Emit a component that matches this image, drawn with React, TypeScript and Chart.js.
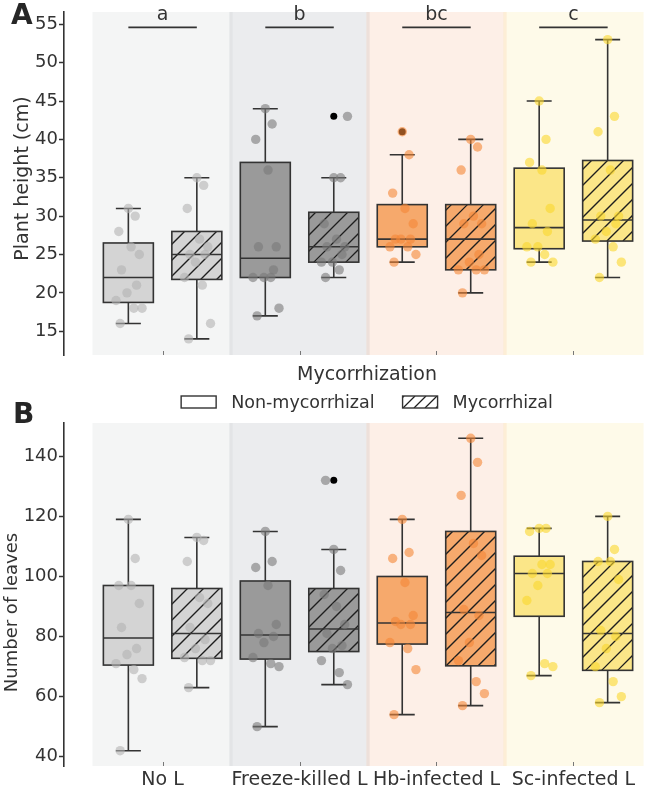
import React, { useEffect, useRef } from 'react';
import { Chart, registerables } from 'chart.js';

Chart.register(...registerables);

// ---------------- DATA ----------------
const categories = ['No L', 'Freeze-killed L', 'Hb-infected L', 'Sc-infected L'];
const groupLabels = ['Non-mycorrhizal', 'Mycorrhizal'];
const axisTitleA = 'Plant height (cm)';
const axisTitleB = 'Number of leaves';
const xTitle = 'Mycorrhization';
const heightLetters = ['a', 'b', 'bc', 'c'];
const heightTicks = [15, 20, 25, 30, 35, 40, 45, 50, 55];
const leafTicks = [40, 60, 80, 100, 120, 140];

// Panel A: plant height (cm)
const heightNoLNon = [31, 30, 28, 26, 25, 23, 21, 20, 19, 18, 18, 16];
const heightNoLMyc = [35, 34, 31, 27, 26, 25, 25, 24, 22, 21, 16, 14];
const heightFKNon = [44, 42, 40, 36, 26, 26, 23, 22, 22, 22, 18, 17];
const heightFKMyc = [35, 35, 29, 27, 26, 26, 25, 24, 24, 23, 43, 22];
const heightHbNon = [41, 38, 33, 31, 29, 27, 27, 27, 26, 26, 25, 24];
const heightHbMyc = [40, 39, 36, 30, 29, 29, 25, 24, 23, 23, 23, 20];
const heightScNon = [45, 40, 37, 36, 31, 29, 28, 26, 26, 25, 24, 24];
const heightScMyc = [53, 43, 41, 36, 30, 30, 29, 28, 27, 26, 24, 22];

// Panel B: number of leaves
const leavesNoLNon = [119, 106, 97, 97, 91, 83, 76, 74, 71, 69, 66, 42];
const leavesNoLMyc = [113, 112, 105, 93, 91, 83, 79, 76, 73, 72, 72, 63];
const leavesFKNon = [115, 105, 103, 97, 84, 81, 80, 78, 73, 71, 70, 50];
const leavesFKMyc = [109, 102, 94, 90, 84, 81, 77, 76, 72, 68, 64, 132];
const leavesHbNon = [119, 108, 106, 98, 87, 85, 84, 84, 78, 76, 69, 54];
const leavesHbMyc = [146, 138, 127, 111, 107, 89, 87, 78, 72, 65, 61, 57];
const leavesScNon = [116, 116, 115, 104, 104, 101, 101, 97, 92, 71, 70, 67];
const leavesScMyc = [120, 109, 105, 105, 99, 82, 80, 76, 70, 65, 60, 58];

const heightNon = [heightNoLNon, heightFKNon, heightHbNon, heightScNon];
const heightMyc = [heightNoLMyc, heightFKMyc, heightHbMyc, heightScMyc];
const leavesNon = [leavesNoLNon, leavesFKNon, leavesHbNon, leavesScNon];
const leavesMyc = [leavesNoLMyc, leavesFKMyc, leavesHbMyc, leavesScMyc];

// ---------------- STYLE ----------------
const FONT = "'DejaVu Sans', 'Noto Sans', sans-serif";
const INK = '#333333';
const boxFill = ['#d4d4d4', '#9a9a9a', '#f6a96c', '#fbe688'];
const pointFill = [
  'rgba(178,178,178,0.6)',
  'rgba(122,122,122,0.6)',
  'rgba(245,135,55,0.6)',
  'rgba(250,215,45,0.6)',
];
const bandFill = [
  'rgba(200,205,205,0.2)',
  'rgba(155,160,170,0.2)',
  'rgba(245,175,135,0.2)',
  'rgba(250,230,145,0.2)',
];
const GROUP_OFFSET = [-0.25, 0.25];
const BOX_WIDTH = 0.365;
const JITTER = [0.0, 0.05, -0.07, 0.02, 0.08, -0.05, 0.06, -0.01, -0.09, 0.04, 0.1, -0.06];

// ---------------- HELPERS ----------------
function quantile(sorted: number[], p: number) {
  const pos = (sorted.length - 1) * p;
  const lo = Math.floor(pos);
  const hi = Math.ceil(pos);
  return sorted[lo] + (sorted[hi] - sorted[lo]) * (pos - lo);
}

function boxStats(vals: number[]) {
  const s = [...vals].sort((a, b) => a - b);
  const q1 = quantile(s, 0.25);
  const med = quantile(s, 0.5);
  const q3 = quantile(s, 0.75);
  const iqr = q3 - q1;
  const lo = q1 - 1.5 * iqr - 1e-9;
  const hi = q3 + 1.5 * iqr + 1e-9;
  const inside = s.filter((v) => v >= lo && v <= hi);
  return {
    q1, med, q3,
    min: inside[0],
    max: inside[inside.length - 1],
    out: s.filter((v) => v < lo || v > hi),
  };
}

function drawHatch(ctx: CanvasRenderingContext2D, l: number, t: number, w: number, h: number, step: number) {
  ctx.save();
  ctx.beginPath();
  ctx.rect(l, t, w, h);
  ctx.clip();
  ctx.strokeStyle = '#1e1e1e';
  ctx.lineWidth = 1.3;
  ctx.beginPath();
  const r = l + w;
  const b = t + h;
  for (let s = Math.floor((l + t) / step) * step; s <= r + b + step; s += step) {
    ctx.moveTo(s - b, b);
    ctx.lineTo(s - t, t);
  }
  ctx.stroke();
  ctx.restore();
}

const boxPlotPlugin = {
  id: 'boxplot',
  beforeDatasetsDraw(chart: any, _args: any, opts: any) {
    const { ctx, chartArea: ca } = chart;
    const x = chart.scales.x;
    const y = chart.scales.y;
    ctx.save();
    // background bands
    categories.forEach((_, c) => {
      const l = x.getPixelForValue(c - 0.512);
      const r = x.getPixelForValue(c + 0.512);
      ctx.fillStyle = bandFill[c];
      ctx.fillRect(l, ca.top, r - l, ca.bottom - ca.top);
    });
    // small category ticks inside bottom
    ctx.strokeStyle = '#777';
    ctx.lineWidth = 1;
    categories.forEach((_, c) => {
      const px = Math.round(x.getPixelForValue(c)) + 0.5;
      ctx.beginPath();
      ctx.moveTo(px, ca.bottom - 4);
      ctx.lineTo(px, ca.bottom);
      ctx.stroke();
    });
    const half = (x.getPixelForValue(BOX_WIDTH) - x.getPixelForValue(0)) / 2;
    const groups: number[][][] = opts.groups;
    groups.forEach((series, g) =>
      series.forEach((vals, c) => {
        const st = boxStats(vals);
        const cx = x.getPixelForValue(c + GROUP_OFFSET[g]);
        const yq1 = y.getPixelForValue(st.q1);
        const yq3 = y.getPixelForValue(st.q3);
        const ymed = y.getPixelForValue(st.med);
        const ymin = y.getPixelForValue(st.min);
        const ymax = y.getPixelForValue(st.max);
        ctx.strokeStyle = INK;
        ctx.lineWidth = 1.6;
        ctx.beginPath();
        ctx.moveTo(cx, yq3);
        ctx.lineTo(cx, ymax);
        ctx.moveTo(cx, yq1);
        ctx.lineTo(cx, ymin);
        ctx.moveTo(cx - half / 2, ymax);
        ctx.lineTo(cx + half / 2, ymax);
        ctx.moveTo(cx - half / 2, ymin);
        ctx.lineTo(cx + half / 2, ymin);
        ctx.stroke();
        ctx.fillStyle = boxFill[c];
        ctx.fillRect(cx - half, yq3, 2 * half, yq1 - yq3);
        if (g === 1) drawHatch(ctx, cx - half, yq3, 2 * half, yq1 - yq3, 16);
        ctx.strokeStyle = INK;
        ctx.lineWidth = 1.6;
        ctx.strokeRect(cx - half, yq3, 2 * half, yq1 - yq3);
        ctx.beginPath();
        ctx.moveTo(cx - half, ymed);
        ctx.lineTo(cx + half, ymed);
        ctx.stroke();
        st.out.forEach((v) => {
          ctx.fillStyle = '#000';
          ctx.beginPath();
          ctx.arc(cx, y.getPixelForValue(v), 3.5, 0, Math.PI * 2);
          ctx.fill();
        });
      })
    );
    // significance letters
    if (opts.letters) {
      const ly = y.getPixelForValue(opts.letterLine);
      opts.letters.forEach((txt: string, c: number) => {
        const x1 = x.getPixelForValue(c + GROUP_OFFSET[0]);
        const x2 = x.getPixelForValue(c + GROUP_OFFSET[1]);
        ctx.strokeStyle = INK;
        ctx.lineWidth = 1.6;
        ctx.beginPath();
        ctx.moveTo(x1, ly);
        ctx.lineTo(x2, ly);
        ctx.stroke();
        ctx.fillStyle = INK;
        ctx.font = `19px ${FONT}`;
        ctx.textAlign = 'center';
        ctx.textBaseline = 'alphabetic';
        ctx.fillText(txt, (x1 + x2) / 2, ly - 7);
      });
    }
    ctx.restore();
  },
  afterDraw(chart: any, _args: any, opts: any) {
    const { ctx, chartArea: ca } = chart;
    ctx.save();
    // y axis title
    ctx.fillStyle = INK;
    ctx.font = `${opts.yTitleSize}px ${FONT}`;
    ctx.textAlign = 'center';
    ctx.textBaseline = 'middle';
    ctx.translate(opts.yTitleX, (ca.top + ca.bottom) / 2 + opts.yTitleShift);
    ctx.rotate(-Math.PI / 2);
    ctx.fillText(opts.yTitle, 0, 0);
    ctx.restore();
    // panel letter
    ctx.save();
    ctx.fillStyle = '#262626';
    ctx.font = `bold 28px ${FONT}`;
    ctx.textAlign = 'left';
    ctx.textBaseline = 'alphabetic';
    ctx.fillText(opts.panel, opts.panelX, opts.panelY);
    ctx.restore();
    // Mycorrhization title + legend
    if (opts.legend) {
      ctx.save();
      ctx.fillStyle = INK;
      ctx.font = `19px ${FONT}`;
      ctx.textAlign = 'center';
      ctx.textBaseline = 'alphabetic';
      const cxm = opts.legendCenter;
      ctx.fillText(xTitle, cxm, 20);
      ctx.font = `17.5px ${FONT}`;
      const boxW = 35, boxH = 12, gapText = 15, gapItem = 28;
      const w0 = ctx.measureText(groupLabels[0]).width;
      const w1 = ctx.measureText(groupLabels[1]).width;
      const total = boxW + gapText + w0 + gapItem + boxW + gapText + w1;
      let lx = cxm - total / 2;
      const ly = 42;
      ctx.textAlign = 'left';
      ctx.textBaseline = 'middle';
      groupLabels.forEach((lab, i) => {
        ctx.fillStyle = '#ffffff';
        ctx.fillRect(lx, ly - boxH / 2, boxW, boxH);
        if (i === 1) drawHatch(ctx, lx, ly - boxH / 2, boxW, boxH, 11);
        ctx.strokeStyle = INK;
        ctx.lineWidth = 1.4;
        ctx.strokeRect(lx, ly - boxH / 2, boxW, boxH);
        ctx.fillStyle = INK;
        ctx.fillText(lab, lx + boxW + gapText, ly + 1);
        lx += boxW + gapText + (i === 0 ? w0 : w1) + gapItem;
      });
      ctx.restore();
    }
  },
};

function makeDatasets(groups: number[][][]) {
  const ds: any[] = [];
  groups.forEach((series, g) =>
    series.forEach((vals, c) => {
      ds.push({
        label: `${categories[c]} ${groupLabels[g]}`,
        data: vals.map((v, i) => ({ x: c + GROUP_OFFSET[g] + JITTER[i % JITTER.length], y: v })),
        backgroundColor: pointFill[c],
        borderWidth: 0,
        pointRadius: 4.7,
        pointHoverRadius: 4.7,
      });
    })
  );
  return ds;
}

function yScale(min: number, max: number, ticks: number[]) {
  return {
    type: 'linear',
    min,
    max,
    afterFit(s: any) {
      s.width = 64;
      s.paddingTop = 0;
      s.paddingBottom = 0;
    },
    afterBuildTicks(s: any) {
      s.ticks = ticks.map((v) => ({ value: v }));
    },
    grid: { drawOnChartArea: false, drawTicks: true, tickLength: 5, tickColor: INK, tickWidth: 1.5 },
    border: { display: true, color: INK, width: 1.6 },
    ticks: { font: { family: FONT, size: 18 }, color: INK, padding: 1 },
  };
}

export default function App() {
  const refA = useRef<HTMLCanvasElement>(null);
  const refB = useRef<HTMLCanvasElement>(null);

  useEffect(() => {
    const chartA = new Chart(refA.current as HTMLCanvasElement, {
      type: 'scatter',
      data: { datasets: makeDatasets([heightNon, heightMyc]) },
      options: {
        animation: false,
        responsive: false,
        layout: { autoPadding: false, padding: { top: 12, right: 0, bottom: 5, left: 0 } },
        plugins: {
          legend: { display: false },
          tooltip: { enabled: false },
          boxplot: {
            groups: [heightNon, heightMyc],
            letters: heightLetters,
            letterLine: 54.6,
            yTitle: axisTitleA,
            yTitleSize: 19,
            yTitleX: 23,
            yTitleShift: -5,
            panel: 'A',
            panelX: 11,
            panelY: 24,
          },
        } as any,
        scales: {
          x: { type: 'linear', min: -0.72, max: 3.53, display: false },
          y: yScale(11.9, 56.6, heightTicks) as any,
        },
      } as any,
      plugins: [boxPlotPlugin as any],
    });

    const chartB = new Chart(refB.current as HTMLCanvasElement, {
      type: 'scatter',
      data: { datasets: makeDatasets([leavesNon, leavesMyc]) },
      options: {
        animation: false,
        responsive: false,
        layout: { autoPadding: false, padding: { top: 63, right: 0, bottom: 0, left: 0 } },
        plugins: {
          legend: { display: false },
          tooltip: { enabled: false },
          boxplot: {
            groups: [leavesNon, leavesMyc],
            yTitle: axisTitleB,
            yTitleSize: 18,
            yTitleX: 12,
            yTitleShift: 18,
            panel: 'B',
            panelX: 13,
            panelY: 63,
            legend: true,
            legendCenter: 367,
          },
        } as any,
        scales: {
          x: {
            type: 'linear',
            min: -0.72,
            max: 3.53,
            afterFit(s: any) {
              s.height = 22;
              s.paddingLeft = 0;
              s.paddingRight = 0;
            },
            afterBuildTicks(s: any) {
              s.ticks = categories.map((_, i) => ({ value: i }));
            },
            grid: { drawOnChartArea: false, drawTicks: false },
            border: { display: false },
            ticks: {
              autoSkip: false,
              maxRotation: 0,
              minRotation: 0,
              padding: 3,
              font: { family: FONT, size: 19 },
              color: INK,
              callback: (v: any) => categories[Math.round(Number(v))] ?? '',
            },
          } as any,
          y: yScale(36.9, 151.1, leafTicks) as any,
        },
      } as any,
      plugins: [boxPlotPlugin as any],
    });

    return () => {
      chartA.destroy();
      chartB.destroy();
    };
  }, []);

  return (
    <div style={{ position: 'absolute', left: 0, top: 0, width: 646, height: 788, background: '#fff' }}>
      <canvas ref={refA} width={646} height={360} style={{ position: 'absolute', left: 0, top: 0, width: 646, height: 360 }} />
      <canvas ref={refB} width={646} height={428} style={{ position: 'absolute', left: 0, top: 360, width: 646, height: 428 }} />
    </div>
  );
}
